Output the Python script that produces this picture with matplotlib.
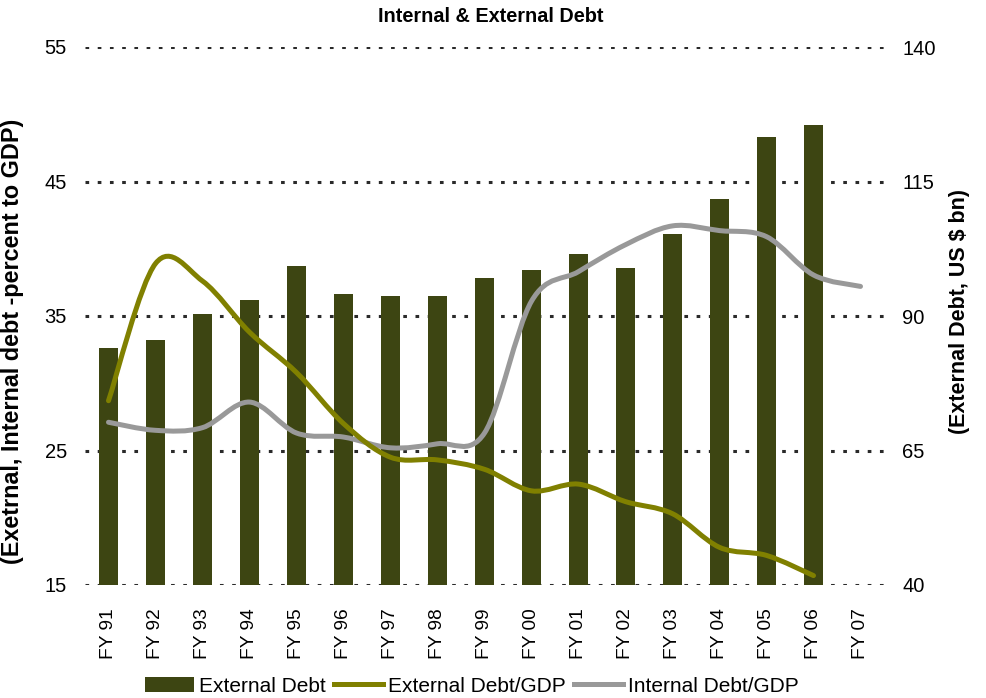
import numpy as np
import matplotlib
matplotlib.use("Agg")
import matplotlib.pyplot as plt
from matplotlib.path import Path
from matplotlib.patches import PathPatch, Patch
from matplotlib.lines import Line2D

plt.rcParams['font.family'] = ['Liberation Sans', 'DejaVu Sans']

years = ["FY 91", "FY 92", "FY 93", "FY 94", "FY 95", "FY 96", "FY 97", "FY 98",
         "FY 99", "FY 00", "FY 01", "FY 02", "FY 03", "FY 04", "FY 05", "FY 06", "FY 07"]

# External debt, US $ bn (right axis)
external_debt = [84.0, 85.5, 90.4, 93.0, 99.3, 94.1, 93.7, 93.7,
                 97.1, 98.6, 101.5, 98.9, 105.2, 111.7, 123.3, 125.5]

# Debt ratios, percent of GDP (left axis)
ext_debt_gdp = [28.7, 38.9, 37.6, 33.8, 30.8, 27.0, 24.5, 24.3,
                23.6, 22.0, 22.5, 21.2, 20.3, 17.8, 17.2, 15.7]
int_debt_gdp = [27.1, 26.5, 26.7, 28.6, 26.3, 26.0, 25.2, 25.5,
                26.3, 36.1, 38.3, 40.3, 41.7, 41.35, 40.9, 38.05, 37.2]

left_ticks = [15, 25, 35, 45, 55]
right_ticks = [40, 65, 90, 115, 140]

BAR_COLOR = "#3d4512"
OLIVE = "#808000"
GREY = "#999999"
TICK_FS = 14.5


def smooth_path(xs, ys):
    """Cubic Bezier path through the points (Catmull-Rom style smoothing)."""
    pts = np.column_stack([xs, ys]).astype(float)
    n = len(pts)
    verts = [pts[0]]
    codes = [Path.MOVETO]
    for i in range(n - 1):
        p0 = pts[i - 1] if i > 0 else pts[i]
        p1 = pts[i]
        p2 = pts[i + 1]
        p3 = pts[i + 2] if i + 2 < n else pts[i + 1]
        c1 = p1 + (p2 - p0) / 6.0
        c2 = p2 - (p3 - p1) / 6.0
        verts += [c1, c2, p2]
        codes += [Path.CURVE4] * 3
    return Path(verts, codes)


W, H = 986, 698
fig = plt.figure(figsize=(W / 100, H / 100), dpi=100)
left, right, top, bottom = 85, 884, 47, 585
rect = [left / W, 1 - bottom / H, (right - left) / W, (bottom - top) / H]

# Bars on the base axes (right-hand scale)
ax = fig.add_axes(rect)
x = np.arange(len(years))
ax.bar(x[:len(external_debt)], external_debt, width=0.42, color=BAR_COLOR, zorder=3)
ax.set_xlim(-0.5, len(years) - 0.5)
ax.set_ylim(right_ticks[0], right_ticks[-1])
ax.set_xticks(x)
ax.set_xticklabels(years, rotation=90, fontsize=13.8)
ax.tick_params(axis='x', length=0, pad=17)
for s in ax.spines.values():
    s.set_visible(False)

# Dotted horizontal gridlines
for v in right_ticks:
    ax.axhline(v, color="#2a2a2a", lw=2.2, linestyle=(0, (1.2, 2.8)), zorder=1)

# Lines on the twin axes (left-hand scale)
ax2 = ax.twinx()
ax2.set_ylim(left_ticks[0], left_ticks[-1])
for s in ax2.spines.values():
    s.set_visible(False)

ax.yaxis.tick_right()
ax.set_yticks(right_ticks)
ax.tick_params(axis='y', length=0, labelsize=TICK_FS, pad=13,
               left=False, labelleft=False, right=True, labelright=True)
ax2.yaxis.tick_left()
ax2.set_yticks(left_ticks)
ax2.tick_params(axis='y', length=0, labelsize=TICK_FS, pad=13,
                right=False, labelright=False, left=True, labelleft=True)

ax2.add_patch(PathPatch(smooth_path(x[:len(int_debt_gdp)], int_debt_gdp),
                        fill=False, edgecolor=GREY, lw=3.6, capstyle='round',
                        joinstyle='round', zorder=4))
ax2.add_patch(PathPatch(smooth_path(x[:len(ext_debt_gdp)], ext_debt_gdp),
                        fill=False, edgecolor=OLIVE, lw=3.6, capstyle='round',
                        joinstyle='round', zorder=5))

# Axis titles and chart title
fig.text(13 / W, 1 - 341 / H, "(Exetrnal, Internal debt -percent to GDP)",
         rotation=90, ha='center', va='center', fontsize=16.8, fontweight='bold')
fig.text(960 / W, 1 - 312 / H, "(External Debt, US $ bn)",
         rotation=90, ha='center', va='center', fontsize=15.5, fontweight='bold')
fig.text(491 / W, 1 - 17 / H, "Internal & External Debt", ha='center', va='center',
         fontsize=14.3, fontweight='bold')

handles = [Patch(facecolor=BAR_COLOR, edgecolor='none'),
           Line2D([], [], color=OLIVE, lw=3.6),
           Line2D([], [], color=GREY, lw=3.6)]
labels = ["External Debt", "External Debt/GDP", "Internal Debt/GDP"]
fig.legend(handles, labels, loc='center', bbox_to_anchor=(472 / W, 1 - 686 / H),
           ncol=3, frameon=False, fontsize=15, handlelength=2.35,
           handleheight=0.75, handletextpad=0.25, columnspacing=0.38,
           borderaxespad=0, borderpad=0)

fig.savefig("out.png", dpi=100)
